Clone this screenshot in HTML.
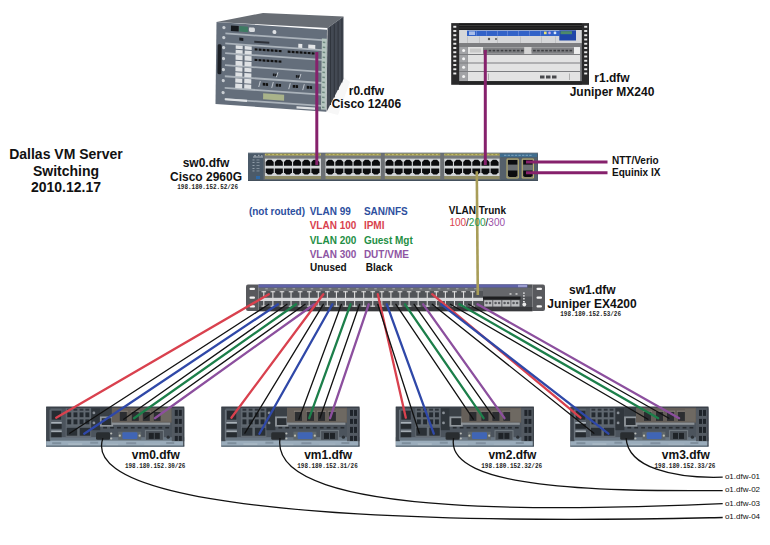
<!DOCTYPE html><html><head><meta charset="utf-8"><style>
html,body{margin:0;padding:0;background:#fff;width:770px;height:545px;overflow:hidden}
svg{display:block}
text{font-family:"Liberation Sans",sans-serif;font-weight:bold}
.r{font-weight:normal}
.m{font-family:"Liberation Mono",monospace;font-weight:bold}
</style></head><body>
<svg width="770" height="545" viewBox="0 0 770 545">
<rect width="770" height="545" fill="#fff"/>

<g id="r0">
<polygon points="326.5,112 343.5,77 350,82 338,115" fill="#f7f7f7"/>
<polygon points="216.5,22 263,13 343.5,16.5 327.5,28" fill="#686d74"/>
<polygon points="327.5,28 343.5,16.5 343.5,79 326.5,112" fill="#434953"/>
<line x1="330.5" y1="27.0" x2="330.5" y2="105.0" stroke="#30353d" stroke-width="1"/>
<line x1="334.3" y1="24.3" x2="334.3" y2="97.5" stroke="#30353d" stroke-width="1"/>
<line x1="338.1" y1="21.6" x2="338.1" y2="90.0" stroke="#30353d" stroke-width="1"/>
<line x1="341.9" y1="18.9" x2="341.9" y2="82.5" stroke="#30353d" stroke-width="1"/>
<g transform="matrix(1,0.07,-0.0125,1,216.5,22)">
<rect x="0" y="0" width="110.5" height="82" fill="#646e7b"/>
<rect x="9" y="9.9" width="97" height="1.8" fill="#aab2ba"/>
<rect x="9" y="19.900000000000002" width="97" height="1.8" fill="#aab2ba"/>
<rect x="9" y="29.6" width="97" height="1.8" fill="#aab2ba"/>
<rect x="9" y="41.6" width="97" height="1.8" fill="#aab2ba"/>
<rect x="9" y="52.7" width="97" height="1.8" fill="#aab2ba"/>
<rect x="9" y="64.3" width="97" height="1.8" fill="#aab2ba"/>
<rect x="9" y="75.6" width="97" height="1.8" fill="#aab2ba"/>
<rect x="14.5" y="2.5" width="7.8" height="5.5" fill="#15181c"/>
<rect x="23" y="2.5" width="8.5" height="5.5" fill="#3d7a62"/>
<rect x="32.5" y="3" width="6" height="4.5" rx="1.5" fill="#d9dcdf"/>
<circle cx="58" cy="6" r="2" fill="#dfe2e5"/>
<rect x="23" y="14" width="4" height="3" fill="#1a1d22"/>
<rect x="38" y="16" width="15" height="2" fill="#2c3038"/>
<rect x="82" y="16" width="4" height="4" fill="#e3e5e7"/>
<rect x="92" y="16" width="7" height="4" fill="#e3e5e7"/>
<rect x="19.5" y="22.0" width="7" height="3.5" fill="#dfe2e5"/>
<rect x="19.5" y="26.5" width="7" height="3.5" fill="#dfe2e5"/>
<rect x="28.5" y="22.0" width="7" height="3.5" fill="#dfe2e5"/>
<rect x="28.5" y="26.5" width="7" height="3.5" fill="#dfe2e5"/>
<rect x="19.5" y="31.7" width="7" height="4.7" fill="#dfe2e5"/>
<rect x="19.5" y="37.4" width="7" height="4.7" fill="#dfe2e5"/>
<rect x="28.5" y="31.7" width="7" height="4.7" fill="#dfe2e5"/>
<rect x="28.5" y="37.4" width="7" height="4.7" fill="#dfe2e5"/>
<rect x="19.5" y="43.7" width="7" height="4.1" fill="#dfe2e5"/>
<rect x="19.5" y="48.9" width="7" height="4.1" fill="#dfe2e5"/>
<rect x="28.5" y="43.7" width="7" height="4.1" fill="#dfe2e5"/>
<rect x="28.5" y="48.9" width="7" height="4.1" fill="#dfe2e5"/>
<rect x="19.5" y="54.8" width="7" height="4.4" fill="#dfe2e5"/>
<rect x="19.5" y="60.2" width="7" height="4.4" fill="#dfe2e5"/>
<rect x="28.5" y="54.8" width="7" height="4.4" fill="#dfe2e5"/>
<rect x="28.5" y="60.2" width="7" height="4.4" fill="#dfe2e5"/>
<rect x="38.5" y="23.5" width="2.8" height="2.2" fill="#111"/>
<rect x="71.5" y="23.5" width="2.8" height="2.2" fill="#111"/>
<rect x="42.5" y="23.5" width="2.8" height="2.2" fill="#111"/>
<rect x="75.5" y="23.5" width="2.8" height="2.2" fill="#111"/>
<rect x="46.5" y="23.5" width="2.8" height="2.2" fill="#111"/>
<rect x="79.5" y="23.5" width="2.8" height="2.2" fill="#111"/>
<rect x="50.5" y="23.5" width="2.8" height="2.2" fill="#111"/>
<rect x="83.5" y="23.5" width="2.8" height="2.2" fill="#111"/>
<rect x="54.5" y="23.5" width="2.8" height="2.2" fill="#111"/>
<rect x="87.5" y="23.5" width="2.8" height="2.2" fill="#111"/>
<rect x="58.5" y="23.5" width="2.8" height="2.2" fill="#111"/>
<rect x="91.5" y="23.5" width="2.8" height="2.2" fill="#111"/>
<rect x="62.5" y="23.5" width="2.8" height="2.2" fill="#111"/>
<rect x="95.5" y="23.5" width="2.8" height="2.2" fill="#111"/>
<rect x="38.5" y="34" width="2.8" height="2.2" fill="#111"/>
<rect x="42.5" y="34" width="2.8" height="2.2" fill="#111"/>
<rect x="46.5" y="34" width="2.8" height="2.2" fill="#111"/>
<rect x="50.5" y="34" width="2.8" height="2.2" fill="#111"/>
<rect x="54.5" y="34" width="2.8" height="2.2" fill="#111"/>
<rect x="58.5" y="34" width="2.8" height="2.2" fill="#111"/>
<rect x="62.5" y="34" width="2.8" height="2.2" fill="#111"/>
<rect x="57" y="47.5" width="1.8" height="2.6" fill="#15171a"/><rect x="59.2" y="47.5" width="1.8" height="2.6" fill="#15171a"/>
<path d="M62,46 l-1.5,5" stroke="#c8ced4" stroke-width="0.9"/>
<rect x="80" y="47.5" width="1.8" height="2.6" fill="#15171a"/><rect x="82.2" y="47.5" width="1.8" height="2.6" fill="#15171a"/>
<path d="M85,46 l-1.5,5" stroke="#c8ced4" stroke-width="0.9"/>
<rect x="47" y="57.5" width="2.4" height="2.8" fill="#111"/><rect x="49.9" y="57.5" width="2.4" height="2.8" fill="#111"/>
<path d="M44.5,56 l-1.5,6" stroke="#c8ced4" stroke-width="0.9"/>
<rect x="60" y="57.5" width="2.4" height="2.8" fill="#111"/><rect x="62.9" y="57.5" width="2.4" height="2.8" fill="#111"/>
<path d="M57.5,56 l-1.5,6" stroke="#c8ced4" stroke-width="0.9"/>
<rect x="77" y="57.5" width="2.4" height="2.8" fill="#111"/><rect x="79.9" y="57.5" width="2.4" height="2.8" fill="#111"/>
<path d="M74.5,56 l-1.5,6" stroke="#c8ced4" stroke-width="0.9"/>
<rect x="91" y="57.5" width="2.4" height="2.8" fill="#111"/><rect x="93.9" y="57.5" width="2.4" height="2.8" fill="#111"/>
<path d="M88.5,56 l-1.5,6" stroke="#c8ced4" stroke-width="0.9"/>
<rect x="47.5" y="68" width="21" height="6" fill="#a9b38a"/>
<rect x="9.5" y="75.5" width="22" height="2.2" fill="#dfe2e5"/>
<rect x="81" y="78.6" width="18.5" height="2.2" fill="#dfe2e5"/>
<rect x="1.5" y="22" width="4" height="30" rx="1.5" fill="#1c2026"/>
<circle cx="7.5" cy="5" r="1.6" fill="#c9ced3"/>
<circle cx="7.5" cy="15" r="1.6" fill="#c9ced3"/>
<circle cx="7.5" cy="25" r="1.6" fill="#c9ced3"/>
<circle cx="7.5" cy="36" r="1.6" fill="#c9ced3"/>
<circle cx="7.5" cy="47" r="1.6" fill="#c9ced3"/>
<circle cx="7.5" cy="58" r="1.6" fill="#c9ced3"/>
<circle cx="7.5" cy="70" r="1.6" fill="#c9ced3"/>
<rect x="105.5" y="9" width="5" height="71" fill="#b6c6c0"/>
<rect x="106.5" y="12" width="2.5" height="1.5" fill="#6f8a80"/>
<rect x="106.5" y="17" width="2.5" height="1.5" fill="#6f8a80"/>
<rect x="106.5" y="22" width="2.5" height="1.5" fill="#6f8a80"/>
<rect x="106.5" y="27" width="2.5" height="1.5" fill="#6f8a80"/>
<rect x="106.5" y="32" width="2.5" height="1.5" fill="#6f8a80"/>
<rect x="106.5" y="37" width="2.5" height="1.5" fill="#6f8a80"/>
<rect x="106.5" y="42" width="2.5" height="1.5" fill="#6f8a80"/>
<rect x="106.5" y="47" width="2.5" height="1.5" fill="#6f8a80"/>
<rect x="106.5" y="52" width="2.5" height="1.5" fill="#6f8a80"/>
<rect x="106.5" y="57" width="2.5" height="1.5" fill="#6f8a80"/>
<rect x="106.5" y="62" width="2.5" height="1.5" fill="#6f8a80"/>
<rect x="106.5" y="67" width="2.5" height="1.5" fill="#6f8a80"/>
<rect x="106.5" y="72" width="2.5" height="1.5" fill="#6f8a80"/>
<rect x="106.5" y="77" width="2.5" height="1.5" fill="#6f8a80"/>
</g></g>
<g id="r1">
<rect x="451.2" y="23.1" width="137.8" height="61.7" fill="#2a2a2b"/>
<rect x="453.3" y="25.80" width="3" height="1.9" fill="#ececec"/>
<rect x="584.2" y="25.80" width="3" height="1.9" fill="#ececec"/>
<rect x="453.3" y="30.05" width="3" height="1.9" fill="#ececec"/>
<rect x="584.2" y="30.05" width="3" height="1.9" fill="#ececec"/>
<rect x="453.3" y="34.30" width="3" height="1.9" fill="#ececec"/>
<rect x="584.2" y="34.30" width="3" height="1.9" fill="#ececec"/>
<rect x="453.3" y="38.55" width="3" height="1.9" fill="#ececec"/>
<rect x="584.2" y="38.55" width="3" height="1.9" fill="#ececec"/>
<rect x="453.3" y="42.80" width="3" height="1.9" fill="#ececec"/>
<rect x="584.2" y="42.80" width="3" height="1.9" fill="#ececec"/>
<rect x="453.3" y="47.05" width="3" height="1.9" fill="#ececec"/>
<rect x="584.2" y="47.05" width="3" height="1.9" fill="#ececec"/>
<rect x="453.3" y="51.30" width="3" height="1.9" fill="#ececec"/>
<rect x="584.2" y="51.30" width="3" height="1.9" fill="#ececec"/>
<rect x="453.3" y="55.55" width="3" height="1.9" fill="#ececec"/>
<rect x="584.2" y="55.55" width="3" height="1.9" fill="#ececec"/>
<rect x="453.3" y="59.80" width="3" height="1.9" fill="#ececec"/>
<rect x="584.2" y="59.80" width="3" height="1.9" fill="#ececec"/>
<rect x="453.3" y="64.05" width="3" height="1.9" fill="#ececec"/>
<rect x="584.2" y="64.05" width="3" height="1.9" fill="#ececec"/>
<rect x="453.3" y="68.30" width="3" height="1.9" fill="#ececec"/>
<rect x="584.2" y="68.30" width="3" height="1.9" fill="#ececec"/>
<rect x="453.3" y="72.55" width="3" height="1.9" fill="#ececec"/>
<rect x="584.2" y="72.55" width="3" height="1.9" fill="#ececec"/>
<rect x="459.1" y="23.5" width="122.7" height="6.5" fill="#1b1b1c"/>
<rect x="459.1" y="25" width="122.7" height="1" fill="#3a3a3a"/>
<rect x="459.1" y="27.5" width="122.7" height="1" fill="#333"/>
<rect x="459.1" y="30" width="122.7" height="13.5" fill="#d6d7d9"/>
<rect x="467" y="30.6" width="92.5" height="5.4" fill="#3262c8"/>
<rect x="476" y="31" width="0.8" height="4.6" fill="#6a8ad8"/>
<rect x="486" y="31" width="0.8" height="4.6" fill="#6a8ad8"/>
<rect x="497" y="31" width="0.8" height="4.6" fill="#6a8ad8"/>
<rect x="507" y="31" width="0.8" height="4.6" fill="#6a8ad8"/>
<rect x="518" y="31" width="0.8" height="4.6" fill="#6a8ad8"/>
<rect x="529" y="31" width="0.8" height="4.6" fill="#6a8ad8"/>
<rect x="540" y="31" width="0.8" height="4.6" fill="#6a8ad8"/>
<rect x="469" y="31.4" width="6" height="3.6" fill="#a9bde8"/>
<rect x="559.3" y="30.3" width="16.7" height="10.2" fill="#1f46a8"/>
<rect x="560.5" y="31.2" width="11.5" height="3" fill="#4d8a6a"/>
<rect x="544" y="31.6" width="2.6" height="2.6" fill="#e8e070"/><circle cx="549.5" cy="32.9" r="1.3" fill="#c8a8e8"/><circle cx="555" cy="32.9" r="1.4" fill="#d8e8f8"/>
<rect x="467" y="36.5" width="0.7" height="6.5" fill="#b8b9bb"/>
<rect x="479" y="36.5" width="0.7" height="6.5" fill="#b8b9bb"/>
<rect x="497" y="36.5" width="0.7" height="6.5" fill="#b8b9bb"/>
<rect x="520" y="36.5" width="0.7" height="6.5" fill="#b8b9bb"/>
<rect x="541" y="36.5" width="0.7" height="6.5" fill="#b8b9bb"/>
<rect x="555" y="36.5" width="0.7" height="6.5" fill="#b8b9bb"/>
<circle cx="489" cy="39" r="1.2" fill="#555"/><rect x="495" y="38" width="2" height="2" fill="#777"/>
<rect x="459.1" y="43.5" width="122.7" height="37.8" fill="#7c7d80"/>
<rect x="468" y="47" width="112" height="7" fill="#e2e2e2"/>
<rect x="459.5" y="47" width="8.3" height="7" fill="#a2a3a6"/>
<circle cx="463.6" cy="50.5" r="1.5" fill="#f4f4f4"/>
<rect x="468" y="55" width="112" height="7.5" fill="#e2e2e2"/>
<rect x="459.5" y="55" width="8.3" height="7.5" fill="#a2a3a6"/>
<circle cx="463.6" cy="58.8" r="1.5" fill="#f4f4f4"/>
<rect x="468" y="63.5" width="112" height="7.5" fill="#e2e2e2"/>
<rect x="459.5" y="63.5" width="8.3" height="7.5" fill="#a2a3a6"/>
<circle cx="463.6" cy="67.2" r="1.5" fill="#f4f4f4"/>
<rect x="468" y="72" width="112" height="9" fill="#e2e2e2"/>
<rect x="459.5" y="72" width="8.3" height="9" fill="#a2a3a6"/>
<circle cx="463.6" cy="76.5" r="1.5" fill="#f4f4f4"/>
<rect x="483" y="47.3" width="91" height="6.5" fill="#7e7f82"/>
<rect x="484.5" y="49.8" width="2.6" height="1.6" fill="#3e3f42"/>
<rect x="488.6" y="49.8" width="2.6" height="1.6" fill="#3e3f42"/>
<rect x="492.6" y="49.8" width="2.6" height="1.6" fill="#3e3f42"/>
<rect x="496.6" y="49.8" width="2.6" height="1.6" fill="#3e3f42"/>
<rect x="500.7" y="49.8" width="2.6" height="1.6" fill="#3e3f42"/>
<rect x="504.8" y="49.8" width="2.6" height="1.6" fill="#3e3f42"/>
<rect x="508.8" y="49.8" width="2.6" height="1.6" fill="#3e3f42"/>
<rect x="512.9" y="49.8" width="2.6" height="1.6" fill="#3e3f42"/>
<rect x="516.9" y="49.8" width="2.6" height="1.6" fill="#3e3f42"/>
<rect x="521.0" y="49.8" width="2.6" height="1.6" fill="#3e3f42"/>
<rect x="525.0" y="49.8" width="2.6" height="1.6" fill="#3e3f42"/>
<rect x="529.0" y="49.8" width="2.6" height="1.6" fill="#3e3f42"/>
<rect x="533.1" y="49.8" width="2.6" height="1.6" fill="#3e3f42"/>
<rect x="537.1" y="49.8" width="2.6" height="1.6" fill="#3e3f42"/>
<rect x="541.2" y="49.8" width="2.6" height="1.6" fill="#3e3f42"/>
<rect x="545.2" y="49.8" width="2.6" height="1.6" fill="#3e3f42"/>
<rect x="549.3" y="49.8" width="2.6" height="1.6" fill="#3e3f42"/>
<rect x="553.4" y="49.8" width="2.6" height="1.6" fill="#3e3f42"/>
<rect x="557.4" y="49.8" width="2.6" height="1.6" fill="#3e3f42"/>
<rect x="561.5" y="49.8" width="2.6" height="1.6" fill="#3e3f42"/>
<rect x="565.5" y="49.8" width="2.6" height="1.6" fill="#3e3f42"/>
<rect x="569.5" y="49.8" width="2.6" height="1.6" fill="#3e3f42"/>
<rect x="524.2" y="47" width="7.3" height="7" fill="#d4d4d4"/>
<rect x="574" y="47.3" width="6" height="6.5" fill="#ededed"/>
<rect x="470" y="48.5" width="11" height="4" fill="#c8c8c8"/>
<rect x="540" y="75.5" width="4.5" height="3" fill="#48494c"/>
<rect x="546" y="75.5" width="4.5" height="3" fill="#48494c"/>
<rect x="552" y="75.5" width="4.5" height="3" fill="#48494c"/>
<rect x="488" y="73.5" width="0.7" height="6.5" fill="#999"/><rect x="569" y="73.5" width="0.7" height="6.5" fill="#999"/>
<rect x="459.1" y="81.3" width="122.7" height="3.2" fill="#252526"/>
</g>
<g id="sw0">
<rect x="248" y="152.8" width="290" height="28" fill="#4b5a69"/>
<rect x="248" y="152.8" width="290" height="0.8" fill="#6a7885"/>
<rect x="248" y="180" width="290" height="0.8" fill="#3a4652"/>
<path d="M253,157 h10 M254,155.8 h2 M258,155.3 h1.5 M261,155.8 h1.5" stroke="#c5ccd2" stroke-width="0.8"/>
<rect x="252.5" y="159.5" width="2" height="0.9" fill="#9aa6b0"/><rect x="256.5" y="159.5" width="3" height="0.9" fill="#8794a0"/>
<rect x="252.5" y="162" width="2" height="0.9" fill="#9aa6b0"/><rect x="256.5" y="162" width="3" height="0.9" fill="#8794a0"/>
<rect x="252.5" y="165" width="2" height="0.9" fill="#9aa6b0"/><rect x="256.5" y="165" width="3" height="0.9" fill="#8794a0"/>
<rect x="252.5" y="168" width="2" height="0.9" fill="#9aa6b0"/><rect x="256.5" y="168" width="3" height="0.9" fill="#8794a0"/>
<rect x="252.5" y="170.5" width="2" height="0.9" fill="#9aa6b0"/><rect x="256.5" y="170.5" width="3" height="0.9" fill="#8794a0"/>
<rect x="256" y="176" width="4" height="3" fill="#2f6aa8"/>
<rect x="263.5" y="153.4" width="237" height="26.4" fill="#6c7074"/>
<rect x="265" y="153.6" width="56" height="2.1" fill="#c4bd66"/>
<rect x="266.0" y="154.3" width="2.2" height="0.8" fill="#8a8440"/>
<rect x="270.0" y="154.3" width="2.2" height="0.8" fill="#8a8440"/>
<rect x="274.0" y="154.3" width="2.2" height="0.8" fill="#8a8440"/>
<rect x="278.0" y="154.3" width="2.2" height="0.8" fill="#8a8440"/>
<rect x="282.0" y="154.3" width="2.2" height="0.8" fill="#8a8440"/>
<rect x="286.0" y="154.3" width="2.2" height="0.8" fill="#8a8440"/>
<rect x="290.0" y="154.3" width="2.2" height="0.8" fill="#8a8440"/>
<rect x="294.0" y="154.3" width="2.2" height="0.8" fill="#8a8440"/>
<rect x="298.0" y="154.3" width="2.2" height="0.8" fill="#8a8440"/>
<rect x="302.0" y="154.3" width="2.2" height="0.8" fill="#8a8440"/>
<rect x="306.0" y="154.3" width="2.2" height="0.8" fill="#8a8440"/>
<rect x="310.0" y="154.3" width="2.2" height="0.8" fill="#8a8440"/>
<rect x="314.0" y="154.3" width="2.2" height="0.8" fill="#8a8440"/>
<rect x="318.0" y="154.3" width="2.2" height="0.8" fill="#8a8440"/>
<rect x="265" y="155.7" width="56" height="2.9" fill="#75797c"/>
<rect x="265" y="158.6" width="56" height="17.4" fill="#d3d6d8"/>
<rect x="265" y="176" width="56" height="3" fill="#8e8b66"/>
<path d="M265.70,162 l2.2,-2.2 h3.6 l2.2,2.2 v3.7 h-8z" fill="#0b0c0e"/>
<path d="M265.70,168.4 h8 v3.9 l-2.2,2.2 h-3.6 l-2.2,-2.2z" fill="#0b0c0e"/>
<path d="M274.84,162 l2.2,-2.2 h3.6 l2.2,2.2 v3.7 h-8z" fill="#0b0c0e"/>
<path d="M274.84,168.4 h8 v3.9 l-2.2,2.2 h-3.6 l-2.2,-2.2z" fill="#0b0c0e"/>
<path d="M283.98,162 l2.2,-2.2 h3.6 l2.2,2.2 v3.7 h-8z" fill="#0b0c0e"/>
<path d="M283.98,168.4 h8 v3.9 l-2.2,2.2 h-3.6 l-2.2,-2.2z" fill="#0b0c0e"/>
<path d="M293.12,162 l2.2,-2.2 h3.6 l2.2,2.2 v3.7 h-8z" fill="#0b0c0e"/>
<path d="M293.12,168.4 h8 v3.9 l-2.2,2.2 h-3.6 l-2.2,-2.2z" fill="#0b0c0e"/>
<path d="M302.26,162 l2.2,-2.2 h3.6 l2.2,2.2 v3.7 h-8z" fill="#0b0c0e"/>
<path d="M302.26,168.4 h8 v3.9 l-2.2,2.2 h-3.6 l-2.2,-2.2z" fill="#0b0c0e"/>
<path d="M311.40,162 l2.2,-2.2 h3.6 l2.2,2.2 v3.7 h-8z" fill="#0b0c0e"/>
<path d="M311.40,168.4 h8 v3.9 l-2.2,2.2 h-3.6 l-2.2,-2.2z" fill="#0b0c0e"/>
<rect x="325.5" y="153.6" width="55.30000000000001" height="2.1" fill="#c4bd66"/>
<rect x="326.5" y="154.3" width="2.2" height="0.8" fill="#8a8440"/>
<rect x="330.5" y="154.3" width="2.2" height="0.8" fill="#8a8440"/>
<rect x="334.5" y="154.3" width="2.2" height="0.8" fill="#8a8440"/>
<rect x="338.5" y="154.3" width="2.2" height="0.8" fill="#8a8440"/>
<rect x="342.5" y="154.3" width="2.2" height="0.8" fill="#8a8440"/>
<rect x="346.5" y="154.3" width="2.2" height="0.8" fill="#8a8440"/>
<rect x="350.5" y="154.3" width="2.2" height="0.8" fill="#8a8440"/>
<rect x="354.5" y="154.3" width="2.2" height="0.8" fill="#8a8440"/>
<rect x="358.5" y="154.3" width="2.2" height="0.8" fill="#8a8440"/>
<rect x="362.5" y="154.3" width="2.2" height="0.8" fill="#8a8440"/>
<rect x="366.5" y="154.3" width="2.2" height="0.8" fill="#8a8440"/>
<rect x="370.5" y="154.3" width="2.2" height="0.8" fill="#8a8440"/>
<rect x="374.5" y="154.3" width="2.2" height="0.8" fill="#8a8440"/>
<rect x="378.5" y="154.3" width="2.2" height="0.8" fill="#8a8440"/>
<rect x="325.5" y="155.7" width="55.30000000000001" height="2.9" fill="#75797c"/>
<rect x="325.5" y="158.6" width="55.30000000000001" height="17.4" fill="#d3d6d8"/>
<rect x="325.5" y="176" width="55.30000000000001" height="3" fill="#8e8b66"/>
<path d="M326.20,162 l2.2,-2.2 h3.6 l2.2,2.2 v3.7 h-8z" fill="#0b0c0e"/>
<path d="M326.20,168.4 h8 v3.9 l-2.2,2.2 h-3.6 l-2.2,-2.2z" fill="#0b0c0e"/>
<path d="M335.34,162 l2.2,-2.2 h3.6 l2.2,2.2 v3.7 h-8z" fill="#0b0c0e"/>
<path d="M335.34,168.4 h8 v3.9 l-2.2,2.2 h-3.6 l-2.2,-2.2z" fill="#0b0c0e"/>
<path d="M344.48,162 l2.2,-2.2 h3.6 l2.2,2.2 v3.7 h-8z" fill="#0b0c0e"/>
<path d="M344.48,168.4 h8 v3.9 l-2.2,2.2 h-3.6 l-2.2,-2.2z" fill="#0b0c0e"/>
<path d="M353.62,162 l2.2,-2.2 h3.6 l2.2,2.2 v3.7 h-8z" fill="#0b0c0e"/>
<path d="M353.62,168.4 h8 v3.9 l-2.2,2.2 h-3.6 l-2.2,-2.2z" fill="#0b0c0e"/>
<path d="M362.76,162 l2.2,-2.2 h3.6 l2.2,2.2 v3.7 h-8z" fill="#0b0c0e"/>
<path d="M362.76,168.4 h8 v3.9 l-2.2,2.2 h-3.6 l-2.2,-2.2z" fill="#0b0c0e"/>
<path d="M371.90,162 l2.2,-2.2 h3.6 l2.2,2.2 v3.7 h-8z" fill="#0b0c0e"/>
<path d="M371.90,168.4 h8 v3.9 l-2.2,2.2 h-3.6 l-2.2,-2.2z" fill="#0b0c0e"/>
<rect x="384.8" y="153.6" width="55.39999999999998" height="2.1" fill="#c4bd66"/>
<rect x="385.8" y="154.3" width="2.2" height="0.8" fill="#8a8440"/>
<rect x="389.8" y="154.3" width="2.2" height="0.8" fill="#8a8440"/>
<rect x="393.8" y="154.3" width="2.2" height="0.8" fill="#8a8440"/>
<rect x="397.8" y="154.3" width="2.2" height="0.8" fill="#8a8440"/>
<rect x="401.8" y="154.3" width="2.2" height="0.8" fill="#8a8440"/>
<rect x="405.8" y="154.3" width="2.2" height="0.8" fill="#8a8440"/>
<rect x="409.8" y="154.3" width="2.2" height="0.8" fill="#8a8440"/>
<rect x="413.8" y="154.3" width="2.2" height="0.8" fill="#8a8440"/>
<rect x="417.8" y="154.3" width="2.2" height="0.8" fill="#8a8440"/>
<rect x="421.8" y="154.3" width="2.2" height="0.8" fill="#8a8440"/>
<rect x="425.8" y="154.3" width="2.2" height="0.8" fill="#8a8440"/>
<rect x="429.8" y="154.3" width="2.2" height="0.8" fill="#8a8440"/>
<rect x="433.8" y="154.3" width="2.2" height="0.8" fill="#8a8440"/>
<rect x="437.8" y="154.3" width="2.2" height="0.8" fill="#8a8440"/>
<rect x="384.8" y="155.7" width="55.39999999999998" height="2.9" fill="#75797c"/>
<rect x="384.8" y="158.6" width="55.39999999999998" height="17.4" fill="#d3d6d8"/>
<rect x="384.8" y="176" width="55.39999999999998" height="3" fill="#8e8b66"/>
<path d="M385.50,162 l2.2,-2.2 h3.6 l2.2,2.2 v3.7 h-8z" fill="#0b0c0e"/>
<path d="M385.50,168.4 h8 v3.9 l-2.2,2.2 h-3.6 l-2.2,-2.2z" fill="#0b0c0e"/>
<path d="M394.64,162 l2.2,-2.2 h3.6 l2.2,2.2 v3.7 h-8z" fill="#0b0c0e"/>
<path d="M394.64,168.4 h8 v3.9 l-2.2,2.2 h-3.6 l-2.2,-2.2z" fill="#0b0c0e"/>
<path d="M403.78,162 l2.2,-2.2 h3.6 l2.2,2.2 v3.7 h-8z" fill="#0b0c0e"/>
<path d="M403.78,168.4 h8 v3.9 l-2.2,2.2 h-3.6 l-2.2,-2.2z" fill="#0b0c0e"/>
<path d="M412.92,162 l2.2,-2.2 h3.6 l2.2,2.2 v3.7 h-8z" fill="#0b0c0e"/>
<path d="M412.92,168.4 h8 v3.9 l-2.2,2.2 h-3.6 l-2.2,-2.2z" fill="#0b0c0e"/>
<path d="M422.06,162 l2.2,-2.2 h3.6 l2.2,2.2 v3.7 h-8z" fill="#0b0c0e"/>
<path d="M422.06,168.4 h8 v3.9 l-2.2,2.2 h-3.6 l-2.2,-2.2z" fill="#0b0c0e"/>
<path d="M431.20,162 l2.2,-2.2 h3.6 l2.2,2.2 v3.7 h-8z" fill="#0b0c0e"/>
<path d="M431.20,168.4 h8 v3.9 l-2.2,2.2 h-3.6 l-2.2,-2.2z" fill="#0b0c0e"/>
<rect x="444.2" y="153.6" width="55.30000000000001" height="2.1" fill="#c4bd66"/>
<rect x="445.2" y="154.3" width="2.2" height="0.8" fill="#8a8440"/>
<rect x="449.2" y="154.3" width="2.2" height="0.8" fill="#8a8440"/>
<rect x="453.2" y="154.3" width="2.2" height="0.8" fill="#8a8440"/>
<rect x="457.2" y="154.3" width="2.2" height="0.8" fill="#8a8440"/>
<rect x="461.2" y="154.3" width="2.2" height="0.8" fill="#8a8440"/>
<rect x="465.2" y="154.3" width="2.2" height="0.8" fill="#8a8440"/>
<rect x="469.2" y="154.3" width="2.2" height="0.8" fill="#8a8440"/>
<rect x="473.2" y="154.3" width="2.2" height="0.8" fill="#8a8440"/>
<rect x="477.2" y="154.3" width="2.2" height="0.8" fill="#8a8440"/>
<rect x="481.2" y="154.3" width="2.2" height="0.8" fill="#8a8440"/>
<rect x="485.2" y="154.3" width="2.2" height="0.8" fill="#8a8440"/>
<rect x="489.2" y="154.3" width="2.2" height="0.8" fill="#8a8440"/>
<rect x="493.2" y="154.3" width="2.2" height="0.8" fill="#8a8440"/>
<rect x="497.2" y="154.3" width="2.2" height="0.8" fill="#8a8440"/>
<rect x="444.2" y="155.7" width="55.30000000000001" height="2.9" fill="#75797c"/>
<rect x="444.2" y="158.6" width="55.30000000000001" height="17.4" fill="#d3d6d8"/>
<rect x="444.2" y="176" width="55.30000000000001" height="3" fill="#8e8b66"/>
<path d="M444.90,162 l2.2,-2.2 h3.6 l2.2,2.2 v3.7 h-8z" fill="#0b0c0e"/>
<path d="M444.90,168.4 h8 v3.9 l-2.2,2.2 h-3.6 l-2.2,-2.2z" fill="#0b0c0e"/>
<path d="M454.04,162 l2.2,-2.2 h3.6 l2.2,2.2 v3.7 h-8z" fill="#0b0c0e"/>
<path d="M454.04,168.4 h8 v3.9 l-2.2,2.2 h-3.6 l-2.2,-2.2z" fill="#0b0c0e"/>
<path d="M463.18,162 l2.2,-2.2 h3.6 l2.2,2.2 v3.7 h-8z" fill="#0b0c0e"/>
<path d="M463.18,168.4 h8 v3.9 l-2.2,2.2 h-3.6 l-2.2,-2.2z" fill="#0b0c0e"/>
<path d="M472.32,162 l2.2,-2.2 h3.6 l2.2,2.2 v3.7 h-8z" fill="#0b0c0e"/>
<path d="M472.32,168.4 h8 v3.9 l-2.2,2.2 h-3.6 l-2.2,-2.2z" fill="#0b0c0e"/>
<path d="M481.46,162 l2.2,-2.2 h3.6 l2.2,2.2 v3.7 h-8z" fill="#0b0c0e"/>
<path d="M481.46,168.4 h8 v3.9 l-2.2,2.2 h-3.6 l-2.2,-2.2z" fill="#0b0c0e"/>
<path d="M490.60,162 l2.2,-2.2 h3.6 l2.2,2.2 v3.7 h-8z" fill="#0b0c0e"/>
<path d="M490.60,168.4 h8 v3.9 l-2.2,2.2 h-3.6 l-2.2,-2.2z" fill="#0b0c0e"/>
<rect x="500" y="153.6" width="37" height="3.6" fill="#3f6d8e"/>
<rect x="504.0" y="154.8" width="2.4" height="1" fill="#7fa4c0"/>
<rect x="507.6" y="154.8" width="2.4" height="1" fill="#7fa4c0"/>
<rect x="511.2" y="154.8" width="2.4" height="1" fill="#7fa4c0"/>
<rect x="514.8" y="154.8" width="2.4" height="1" fill="#7fa4c0"/>
<rect x="518.4" y="154.8" width="2.4" height="1" fill="#7fa4c0"/>
<rect x="522.0" y="154.8" width="2.4" height="1" fill="#7fa4c0"/>
<rect x="525.6" y="154.8" width="2.4" height="1" fill="#7fa4c0"/>
<rect x="529.2" y="154.8" width="2.4" height="1" fill="#7fa4c0"/>
<rect x="500" y="157.5" width="37" height="22" fill="#55606a"/>
<rect x="506.5" y="158.5" width="12.3" height="20" rx="1.2" fill="#bfb36a"/>
<rect x="507.5" y="159.5" width="10.3" height="18" fill="#6b6f72"/>
<rect x="508.0" y="160" width="9.3" height="4.6" fill="#0b0c0e"/>
<path d="M508.0,170.5 h9.3 v5 l-1.5,1.5 h-6.3 l-1.5,-1.5z" fill="#0b0c0e"/>
<rect x="521.7" y="158.5" width="12.3" height="20" rx="1.2" fill="#bfb36a"/>
<rect x="522.7" y="159.5" width="10.3" height="18" fill="#6b6f72"/>
<rect x="523.2" y="160" width="9.3" height="4.6" fill="#0b0c0e"/>
<path d="M523.2,170.5 h9.3 v5 l-1.5,1.5 h-6.3 l-1.5,-1.5z" fill="#0b0c0e"/>
</g>
<g id="sw1">
<path d="M246,286.5 q0,-2 2,-2 h10.5 v26.5 h-10.5 q-2,0 -2,-2z" fill="#58595d"/>
<path d="M545,286.5 q0,-2 -2,-2 h-10.5 v26.5 h10.5 q2,0 2,-2z" fill="#58595d"/>
<rect x="249.5" y="287.7" width="5.5" height="2.4" rx="1.1" fill="#f4f4f4"/>
<rect x="536.5" y="287.7" width="5.5" height="2.4" rx="1.1" fill="#f4f4f4"/>
<rect x="249.5" y="296.4" width="5.5" height="2.4" rx="1.1" fill="#f4f4f4"/>
<rect x="536.5" y="296.4" width="5.5" height="2.4" rx="1.1" fill="#f4f4f4"/>
<rect x="249.5" y="305.2" width="5.5" height="2.4" rx="1.1" fill="#f4f4f4"/>
<rect x="536.5" y="305.2" width="5.5" height="2.4" rx="1.1" fill="#f4f4f4"/>
<rect x="258.5" y="284.4" width="274" height="26.8" fill="#505256"/>
<rect x="258.5" y="284.4" width="269" height="3.3" fill="#5f62a8"/>
<rect x="518" y="284.8" width="9" height="2.4" fill="#9a9cd0"/>
<rect x="259" y="287.7" width="224" height="3.4" fill="#6b6e72"/>
<rect x="265.30" y="288.3" width="2.5" height="1" fill="#a8aaac"/>
<rect x="274.38" y="288.3" width="2.5" height="1" fill="#a8aaac"/>
<rect x="283.46" y="288.3" width="2.5" height="1" fill="#a8aaac"/>
<rect x="292.54" y="288.3" width="2.5" height="1" fill="#a8aaac"/>
<rect x="301.62" y="288.3" width="2.5" height="1" fill="#a8aaac"/>
<rect x="310.70" y="288.3" width="2.5" height="1" fill="#a8aaac"/>
<rect x="319.78" y="288.3" width="2.5" height="1" fill="#a8aaac"/>
<rect x="328.86" y="288.3" width="2.5" height="1" fill="#a8aaac"/>
<rect x="337.94" y="288.3" width="2.5" height="1" fill="#a8aaac"/>
<rect x="347.02" y="288.3" width="2.5" height="1" fill="#a8aaac"/>
<rect x="356.10" y="288.3" width="2.5" height="1" fill="#a8aaac"/>
<rect x="365.18" y="288.3" width="2.5" height="1" fill="#a8aaac"/>
<rect x="374.26" y="288.3" width="2.5" height="1" fill="#a8aaac"/>
<rect x="383.34" y="288.3" width="2.5" height="1" fill="#a8aaac"/>
<rect x="392.42" y="288.3" width="2.5" height="1" fill="#a8aaac"/>
<rect x="401.50" y="288.3" width="2.5" height="1" fill="#a8aaac"/>
<rect x="410.58" y="288.3" width="2.5" height="1" fill="#a8aaac"/>
<rect x="419.66" y="288.3" width="2.5" height="1" fill="#a8aaac"/>
<rect x="428.74" y="288.3" width="2.5" height="1" fill="#a8aaac"/>
<rect x="437.82" y="288.3" width="2.5" height="1" fill="#a8aaac"/>
<rect x="446.90" y="288.3" width="2.5" height="1" fill="#a8aaac"/>
<rect x="455.98" y="288.3" width="2.5" height="1" fill="#a8aaac"/>
<rect x="465.06" y="288.3" width="2.5" height="1" fill="#a8aaac"/>
<rect x="474.14" y="288.3" width="2.5" height="1" fill="#a8aaac"/>
<rect x="259" y="291" width="224" height="16" fill="#515458"/>
<rect x="260" y="297.8" width="223" height="3.2" fill="#d6d8da"/>
<rect x="263.25" y="291.2" width="1.1" height="15.4" fill="#dcdcdc"/>
<rect x="261.50" y="291.2" width="4.6" height="1.1" fill="#dcdcdc"/>
<rect x="261.50" y="305.6" width="4.6" height="1.1" fill="#dcdcdc"/>
<rect x="272.33" y="291.2" width="1.1" height="15.4" fill="#dcdcdc"/>
<rect x="270.58" y="291.2" width="4.6" height="1.1" fill="#dcdcdc"/>
<rect x="270.58" y="305.6" width="4.6" height="1.1" fill="#dcdcdc"/>
<rect x="281.41" y="291.2" width="1.1" height="15.4" fill="#dcdcdc"/>
<rect x="279.66" y="291.2" width="4.6" height="1.1" fill="#dcdcdc"/>
<rect x="279.66" y="305.6" width="4.6" height="1.1" fill="#dcdcdc"/>
<rect x="290.49" y="291.2" width="1.1" height="15.4" fill="#dcdcdc"/>
<rect x="288.74" y="291.2" width="4.6" height="1.1" fill="#dcdcdc"/>
<rect x="288.74" y="305.6" width="4.6" height="1.1" fill="#dcdcdc"/>
<rect x="299.57" y="291.2" width="1.1" height="15.4" fill="#dcdcdc"/>
<rect x="297.82" y="291.2" width="4.6" height="1.1" fill="#dcdcdc"/>
<rect x="297.82" y="305.6" width="4.6" height="1.1" fill="#dcdcdc"/>
<rect x="308.65" y="291.2" width="1.1" height="15.4" fill="#dcdcdc"/>
<rect x="306.90" y="291.2" width="4.6" height="1.1" fill="#dcdcdc"/>
<rect x="306.90" y="305.6" width="4.6" height="1.1" fill="#dcdcdc"/>
<rect x="317.73" y="291.2" width="1.1" height="15.4" fill="#dcdcdc"/>
<rect x="315.98" y="291.2" width="4.6" height="1.1" fill="#dcdcdc"/>
<rect x="315.98" y="305.6" width="4.6" height="1.1" fill="#dcdcdc"/>
<rect x="326.81" y="291.2" width="1.1" height="15.4" fill="#dcdcdc"/>
<rect x="325.06" y="291.2" width="4.6" height="1.1" fill="#dcdcdc"/>
<rect x="325.06" y="305.6" width="4.6" height="1.1" fill="#dcdcdc"/>
<rect x="335.89" y="291.2" width="1.1" height="15.4" fill="#dcdcdc"/>
<rect x="334.14" y="291.2" width="4.6" height="1.1" fill="#dcdcdc"/>
<rect x="334.14" y="305.6" width="4.6" height="1.1" fill="#dcdcdc"/>
<rect x="344.97" y="291.2" width="1.1" height="15.4" fill="#dcdcdc"/>
<rect x="343.22" y="291.2" width="4.6" height="1.1" fill="#dcdcdc"/>
<rect x="343.22" y="305.6" width="4.6" height="1.1" fill="#dcdcdc"/>
<rect x="354.05" y="291.2" width="1.1" height="15.4" fill="#dcdcdc"/>
<rect x="352.30" y="291.2" width="4.6" height="1.1" fill="#dcdcdc"/>
<rect x="352.30" y="305.6" width="4.6" height="1.1" fill="#dcdcdc"/>
<rect x="363.13" y="291.2" width="1.1" height="15.4" fill="#dcdcdc"/>
<rect x="361.38" y="291.2" width="4.6" height="1.1" fill="#dcdcdc"/>
<rect x="361.38" y="305.6" width="4.6" height="1.1" fill="#dcdcdc"/>
<rect x="372.21" y="291.2" width="1.1" height="15.4" fill="#dcdcdc"/>
<rect x="370.46" y="291.2" width="4.6" height="1.1" fill="#dcdcdc"/>
<rect x="370.46" y="305.6" width="4.6" height="1.1" fill="#dcdcdc"/>
<rect x="381.29" y="291.2" width="1.1" height="15.4" fill="#dcdcdc"/>
<rect x="379.54" y="291.2" width="4.6" height="1.1" fill="#dcdcdc"/>
<rect x="379.54" y="305.6" width="4.6" height="1.1" fill="#dcdcdc"/>
<rect x="390.37" y="291.2" width="1.1" height="15.4" fill="#dcdcdc"/>
<rect x="388.62" y="291.2" width="4.6" height="1.1" fill="#dcdcdc"/>
<rect x="388.62" y="305.6" width="4.6" height="1.1" fill="#dcdcdc"/>
<rect x="399.45" y="291.2" width="1.1" height="15.4" fill="#dcdcdc"/>
<rect x="397.70" y="291.2" width="4.6" height="1.1" fill="#dcdcdc"/>
<rect x="397.70" y="305.6" width="4.6" height="1.1" fill="#dcdcdc"/>
<rect x="408.53" y="291.2" width="1.1" height="15.4" fill="#dcdcdc"/>
<rect x="406.78" y="291.2" width="4.6" height="1.1" fill="#dcdcdc"/>
<rect x="406.78" y="305.6" width="4.6" height="1.1" fill="#dcdcdc"/>
<rect x="417.61" y="291.2" width="1.1" height="15.4" fill="#dcdcdc"/>
<rect x="415.86" y="291.2" width="4.6" height="1.1" fill="#dcdcdc"/>
<rect x="415.86" y="305.6" width="4.6" height="1.1" fill="#dcdcdc"/>
<rect x="426.69" y="291.2" width="1.1" height="15.4" fill="#dcdcdc"/>
<rect x="424.94" y="291.2" width="4.6" height="1.1" fill="#dcdcdc"/>
<rect x="424.94" y="305.6" width="4.6" height="1.1" fill="#dcdcdc"/>
<rect x="435.77" y="291.2" width="1.1" height="15.4" fill="#dcdcdc"/>
<rect x="434.02" y="291.2" width="4.6" height="1.1" fill="#dcdcdc"/>
<rect x="434.02" y="305.6" width="4.6" height="1.1" fill="#dcdcdc"/>
<rect x="444.85" y="291.2" width="1.1" height="15.4" fill="#dcdcdc"/>
<rect x="443.10" y="291.2" width="4.6" height="1.1" fill="#dcdcdc"/>
<rect x="443.10" y="305.6" width="4.6" height="1.1" fill="#dcdcdc"/>
<rect x="453.93" y="291.2" width="1.1" height="15.4" fill="#dcdcdc"/>
<rect x="452.18" y="291.2" width="4.6" height="1.1" fill="#dcdcdc"/>
<rect x="452.18" y="305.6" width="4.6" height="1.1" fill="#dcdcdc"/>
<rect x="463.01" y="291.2" width="1.1" height="15.4" fill="#dcdcdc"/>
<rect x="461.26" y="291.2" width="4.6" height="1.1" fill="#dcdcdc"/>
<rect x="461.26" y="305.6" width="4.6" height="1.1" fill="#dcdcdc"/>
<rect x="472.09" y="291.2" width="1.1" height="15.4" fill="#dcdcdc"/>
<rect x="470.34" y="291.2" width="4.6" height="1.1" fill="#dcdcdc"/>
<rect x="470.34" y="305.6" width="4.6" height="1.1" fill="#dcdcdc"/>
<rect x="259" y="307" width="273.5" height="4.2" fill="#38393c"/>
<rect x="483" y="287.7" width="49" height="8.8" fill="#65676b"/>
<rect x="509.5" y="293.3" width="2" height="1.3" fill="#e0e0e0"/><rect x="515.5" y="293.3" width="2" height="1.3" fill="#e0e0e0"/>
<rect x="483" y="296.6" width="37.5" height="3.1" fill="#1d1e20"/>
<rect x="483" y="299.7" width="38" height="7.3" fill="#4a4c50"/>
<rect x="484.2" y="300.2" width="8.2" height="6.3" fill="#bcbec0"/>
<circle cx="486.5" cy="303" r="1.3" fill="#5a5c60"/><circle cx="490.0" cy="303" r="1.3" fill="#5a5c60"/>
<rect x="493.2" y="300.2" width="8.2" height="6.3" fill="#bcbec0"/>
<circle cx="495.6" cy="303" r="1.3" fill="#5a5c60"/><circle cx="499.1" cy="303" r="1.3" fill="#5a5c60"/>
<rect x="502.3" y="300.2" width="8.2" height="6.3" fill="#bcbec0"/>
<circle cx="504.6" cy="303" r="1.3" fill="#5a5c60"/><circle cx="508.1" cy="303" r="1.3" fill="#5a5c60"/>
<rect x="511.3" y="300.2" width="8.2" height="6.3" fill="#bcbec0"/>
<circle cx="513.6" cy="303" r="1.3" fill="#5a5c60"/><circle cx="517.1" cy="303" r="1.3" fill="#5a5c60"/>
<rect x="523" y="292.5" width="1.8" height="1.2" fill="#e8e8e8"/>
<rect x="523" y="295.3" width="1.8" height="1.2" fill="#e8e8e8"/>
<rect x="523" y="298.2" width="1.8" height="1.2" fill="#e8e8e8"/>
<rect x="523" y="301" width="1.8" height="1.2" fill="#e8e8e8"/>
<circle cx="524.3" cy="304.5" r="1.9" fill="#e8e8e8"/>
</g>
<g transform="translate(46.2,406.7)"><rect x="0" y="0" width="138" height="40" fill="#4c545d"/><rect x="0" y="0" width="138" height="1.5" fill="#3a4048"/><rect x="0" y="30.5" width="138" height="4" fill="#6a7783"/><rect x="0" y="34" width="138" height="6" fill="#9aacbb"/><rect x="6" y="35.5" width="9" height="2" fill="#7d8e9c"/><rect x="22" y="36.5" width="14" height="2" fill="#a9b8c4"/><rect x="44" y="35" width="8" height="2" fill="#7f909e"/><rect x="60" y="37" width="12" height="2" fill="#a6b6c2"/><rect x="80" y="35.5" width="10" height="2" fill="#8090a0"/><rect x="98" y="36.8" width="16" height="2" fill="#a2b2bf"/><rect x="120" y="35.3" width="8" height="2" fill="#7f8f9d"/><rect x="0" y="38.8" width="138" height="1.2" fill="#5d6a75"/><rect x="0" y="1.5" width="4" height="33" fill="#3f464e"/><rect x="3.5" y="3" width="0.8" height="30" fill="#7b848c"/><rect x="4.5" y="2" width="11" height="29" fill="#59616a"/><rect x="5.5" y="4" width="9.5" height="9" fill="#262b31"/><rect x="5" y="15.3" width="10.5" height="1.8" fill="#a9b1b8"/><rect x="5" y="17.1" width="10.5" height="5" fill="#262b30"/><rect x="5" y="23.8" width="10.5" height="1.8" fill="#a3abb2"/><rect x="5" y="25.6" width="10.5" height="4.8" fill="#262b30"/><rect x="19.5" y="1.5" width="25.5" height="18.5" fill="#5f676f"/><rect x="21.1" y="2" width="3.8" height="2" fill="#30363c"/><rect x="21.1" y="5.7" width="3.9" height="4.8" fill="#242a30"/><rect x="21.1" y="12.7" width="3.9" height="4.9" fill="#242a30"/><rect x="27.3" y="2" width="3.8" height="2" fill="#30363c"/><rect x="27.3" y="5.7" width="3.9" height="4.8" fill="#242a30"/><rect x="27.3" y="12.7" width="3.9" height="4.9" fill="#242a30"/><rect x="33.4" y="2" width="3.8" height="2" fill="#30363c"/><rect x="33.4" y="5.7" width="3.9" height="4.8" fill="#242a30"/><rect x="33.4" y="12.7" width="3.9" height="4.9" fill="#242a30"/><rect x="39.2" y="2" width="3.8" height="2" fill="#30363c"/><rect x="39.2" y="5.7" width="3.9" height="4.8" fill="#242a30"/><rect x="39.2" y="12.7" width="3.9" height="4.9" fill="#242a30"/><rect x="19.5" y="20" width="25.5" height="10.5" fill="#646c74"/><rect x="20.5" y="21" width="10.5" height="8" fill="#2a3036"/><rect x="33.5" y="21" width="10.5" height="8" fill="#2a3036"/><rect x="45" y="1.5" width="9" height="22" fill="#30363c"/><circle cx="47.7" cy="6.2" r="1.4" fill="#8a9097"/><circle cx="47.7" cy="16.2" r="1.4" fill="#8a9097"/><rect x="53.7" y="9.7" width="13.2" height="10.2" fill="#8f959a"/><rect x="55.5" y="11.5" width="9.6" height="6.8" fill="#2a2f34"/><rect x="54" y="1.5" width="12" height="8" fill="#3a4046"/><rect x="49.8" y="25.6" width="14.1" height="7.5" rx="1.5" fill="#292d30"/><circle cx="65" cy="26.8" r="1.1" fill="#b9bcb8"/><circle cx="65" cy="31.8" r="1.1" fill="#b9bcb8"/><rect x="65.6" y="1" width="60" height="15" fill="#655f59"/><rect x="72.6" y="4" width="9" height="1.2" fill="#807a73"/><rect x="73.6" y="5.2" width="7" height="9" fill="#2c2e31"/><rect x="84.6" y="4" width="9" height="1.2" fill="#807a73"/><rect x="85.6" y="5.2" width="7" height="9" fill="#2c2e31"/><rect x="95.6" y="4" width="9" height="1.2" fill="#807a73"/><rect x="96.6" y="5.2" width="7" height="9" fill="#2c2e31"/><rect x="106.6" y="4" width="9" height="1.2" fill="#807a73"/><rect x="107.6" y="5.2" width="7" height="9" fill="#2c2e31"/><rect x="114.5" y="2" width="10.5" height="13" fill="#6e6962"/><rect x="66" y="15.9" width="58" height="2.2" fill="#8c9297"/><rect x="57.0" y="20.2" width="3.8" height="1.6" fill="#262b30"/><rect x="63.9" y="20.2" width="3.8" height="1.6" fill="#262b30"/><rect x="70.8" y="20.2" width="3.8" height="1.6" fill="#262b30"/><rect x="77.7" y="20.2" width="3.8" height="1.6" fill="#262b30"/><rect x="84.6" y="20.2" width="3.8" height="1.6" fill="#262b30"/><rect x="91.5" y="20.2" width="3.8" height="1.6" fill="#262b30"/><rect x="98.4" y="20.2" width="3.8" height="1.6" fill="#262b30"/><rect x="105.3" y="20.2" width="3.8" height="1.6" fill="#262b30"/><rect x="112.2" y="20.2" width="3.8" height="1.6" fill="#262b30"/><rect x="119.1" y="20.2" width="3.8" height="1.6" fill="#262b30"/><rect x="72" y="25" width="23" height="8" fill="#5f676b"/><rect x="76.2" y="25.6" width="15" height="6.6" rx="1" fill="#4065b5"/><circle cx="73.6" cy="29" r="1.1" fill="#c0c0b0"/><circle cx="93.4" cy="29" r="1.1" fill="#c0c0b0"/><rect x="98.7" y="23.4" width="19" height="9.7" fill="#727a81"/><rect x="99.7" y="24.4" width="17" height="8.7" fill="#4b5259"/><rect x="102.6" y="26.2" width="5" height="6" fill="#1f2327"/><rect x="108.6" y="26.2" width="5" height="6" fill="#1f2327"/><circle cx="122" cy="30.5" r="1.6" fill="#2a2f34"/><rect x="125.6" y="1.5" width="12.4" height="33" fill="#535a62"/><rect x="128.6" y="3.2" width="3" height="6" fill="#1f242a"/><rect x="132.6" y="3.2" width="3" height="6" fill="#1f242a"/><rect x="128.6" y="12.2" width="3" height="5" fill="#1f242a"/><rect x="132.6" y="12.2" width="3" height="5" fill="#1f242a"/><rect x="128.6" y="20.2" width="3" height="6" fill="#1f242a"/><rect x="132.6" y="20.2" width="3" height="6" fill="#1f242a"/><rect x="128.6" y="29.2" width="3" height="5" fill="#1f242a"/><rect x="132.6" y="29.2" width="3" height="5" fill="#1f242a"/><rect x="137" y="1.5" width="1" height="38" fill="#3a4048"/></g>
<g transform="translate(221.4,406.7)"><rect x="0" y="0" width="138" height="40" fill="#4c545d"/><rect x="0" y="0" width="138" height="1.5" fill="#3a4048"/><rect x="0" y="30.5" width="138" height="4" fill="#6a7783"/><rect x="0" y="34" width="138" height="6" fill="#9aacbb"/><rect x="6" y="35.5" width="9" height="2" fill="#7d8e9c"/><rect x="22" y="36.5" width="14" height="2" fill="#a9b8c4"/><rect x="44" y="35" width="8" height="2" fill="#7f909e"/><rect x="60" y="37" width="12" height="2" fill="#a6b6c2"/><rect x="80" y="35.5" width="10" height="2" fill="#8090a0"/><rect x="98" y="36.8" width="16" height="2" fill="#a2b2bf"/><rect x="120" y="35.3" width="8" height="2" fill="#7f8f9d"/><rect x="0" y="38.8" width="138" height="1.2" fill="#5d6a75"/><rect x="0" y="1.5" width="4" height="33" fill="#3f464e"/><rect x="3.5" y="3" width="0.8" height="30" fill="#7b848c"/><rect x="4.5" y="2" width="11" height="29" fill="#59616a"/><rect x="5.5" y="4" width="9.5" height="9" fill="#262b31"/><rect x="5" y="15.3" width="10.5" height="1.8" fill="#a9b1b8"/><rect x="5" y="17.1" width="10.5" height="5" fill="#262b30"/><rect x="5" y="23.8" width="10.5" height="1.8" fill="#a3abb2"/><rect x="5" y="25.6" width="10.5" height="4.8" fill="#262b30"/><rect x="19.5" y="1.5" width="25.5" height="18.5" fill="#5f676f"/><rect x="21.1" y="2" width="3.8" height="2" fill="#30363c"/><rect x="21.1" y="5.7" width="3.9" height="4.8" fill="#242a30"/><rect x="21.1" y="12.7" width="3.9" height="4.9" fill="#242a30"/><rect x="27.3" y="2" width="3.8" height="2" fill="#30363c"/><rect x="27.3" y="5.7" width="3.9" height="4.8" fill="#242a30"/><rect x="27.3" y="12.7" width="3.9" height="4.9" fill="#242a30"/><rect x="33.4" y="2" width="3.8" height="2" fill="#30363c"/><rect x="33.4" y="5.7" width="3.9" height="4.8" fill="#242a30"/><rect x="33.4" y="12.7" width="3.9" height="4.9" fill="#242a30"/><rect x="39.2" y="2" width="3.8" height="2" fill="#30363c"/><rect x="39.2" y="5.7" width="3.9" height="4.8" fill="#242a30"/><rect x="39.2" y="12.7" width="3.9" height="4.9" fill="#242a30"/><rect x="19.5" y="20" width="25.5" height="10.5" fill="#646c74"/><rect x="20.5" y="21" width="10.5" height="8" fill="#2a3036"/><rect x="33.5" y="21" width="10.5" height="8" fill="#2a3036"/><rect x="45" y="1.5" width="9" height="22" fill="#30363c"/><circle cx="47.7" cy="6.2" r="1.4" fill="#8a9097"/><circle cx="47.7" cy="16.2" r="1.4" fill="#8a9097"/><rect x="53.7" y="9.7" width="13.2" height="10.2" fill="#8f959a"/><rect x="55.5" y="11.5" width="9.6" height="6.8" fill="#2a2f34"/><rect x="54" y="1.5" width="12" height="8" fill="#3a4046"/><rect x="49.8" y="25.6" width="14.1" height="7.5" rx="1.5" fill="#292d30"/><circle cx="65" cy="26.8" r="1.1" fill="#b9bcb8"/><circle cx="65" cy="31.8" r="1.1" fill="#b9bcb8"/><rect x="65.6" y="1" width="60" height="15" fill="#655f59"/><rect x="72.6" y="4" width="9" height="1.2" fill="#807a73"/><rect x="73.6" y="5.2" width="7" height="9" fill="#2c2e31"/><rect x="84.6" y="4" width="9" height="1.2" fill="#807a73"/><rect x="85.6" y="5.2" width="7" height="9" fill="#2c2e31"/><rect x="95.6" y="4" width="9" height="1.2" fill="#807a73"/><rect x="96.6" y="5.2" width="7" height="9" fill="#2c2e31"/><rect x="106.6" y="4" width="9" height="1.2" fill="#807a73"/><rect x="107.6" y="5.2" width="7" height="9" fill="#2c2e31"/><rect x="114.5" y="2" width="10.5" height="13" fill="#6e6962"/><rect x="66" y="15.9" width="58" height="2.2" fill="#8c9297"/><rect x="57.0" y="20.2" width="3.8" height="1.6" fill="#262b30"/><rect x="63.9" y="20.2" width="3.8" height="1.6" fill="#262b30"/><rect x="70.8" y="20.2" width="3.8" height="1.6" fill="#262b30"/><rect x="77.7" y="20.2" width="3.8" height="1.6" fill="#262b30"/><rect x="84.6" y="20.2" width="3.8" height="1.6" fill="#262b30"/><rect x="91.5" y="20.2" width="3.8" height="1.6" fill="#262b30"/><rect x="98.4" y="20.2" width="3.8" height="1.6" fill="#262b30"/><rect x="105.3" y="20.2" width="3.8" height="1.6" fill="#262b30"/><rect x="112.2" y="20.2" width="3.8" height="1.6" fill="#262b30"/><rect x="119.1" y="20.2" width="3.8" height="1.6" fill="#262b30"/><rect x="72" y="25" width="23" height="8" fill="#5f676b"/><rect x="76.2" y="25.6" width="15" height="6.6" rx="1" fill="#4065b5"/><circle cx="73.6" cy="29" r="1.1" fill="#c0c0b0"/><circle cx="93.4" cy="29" r="1.1" fill="#c0c0b0"/><rect x="98.7" y="23.4" width="19" height="9.7" fill="#727a81"/><rect x="99.7" y="24.4" width="17" height="8.7" fill="#4b5259"/><rect x="102.6" y="26.2" width="5" height="6" fill="#1f2327"/><rect x="108.6" y="26.2" width="5" height="6" fill="#1f2327"/><circle cx="122" cy="30.5" r="1.6" fill="#2a2f34"/><rect x="125.6" y="1.5" width="12.4" height="33" fill="#535a62"/><rect x="128.6" y="3.2" width="3" height="6" fill="#1f242a"/><rect x="132.6" y="3.2" width="3" height="6" fill="#1f242a"/><rect x="128.6" y="12.2" width="3" height="5" fill="#1f242a"/><rect x="132.6" y="12.2" width="3" height="5" fill="#1f242a"/><rect x="128.6" y="20.2" width="3" height="6" fill="#1f242a"/><rect x="132.6" y="20.2" width="3" height="6" fill="#1f242a"/><rect x="128.6" y="29.2" width="3" height="5" fill="#1f242a"/><rect x="132.6" y="29.2" width="3" height="5" fill="#1f242a"/><rect x="137" y="1.5" width="1" height="38" fill="#3a4048"/></g>
<g transform="translate(395.8,406.7)"><rect x="0" y="0" width="138" height="40" fill="#4c545d"/><rect x="0" y="0" width="138" height="1.5" fill="#3a4048"/><rect x="0" y="30.5" width="138" height="4" fill="#6a7783"/><rect x="0" y="34" width="138" height="6" fill="#9aacbb"/><rect x="6" y="35.5" width="9" height="2" fill="#7d8e9c"/><rect x="22" y="36.5" width="14" height="2" fill="#a9b8c4"/><rect x="44" y="35" width="8" height="2" fill="#7f909e"/><rect x="60" y="37" width="12" height="2" fill="#a6b6c2"/><rect x="80" y="35.5" width="10" height="2" fill="#8090a0"/><rect x="98" y="36.8" width="16" height="2" fill="#a2b2bf"/><rect x="120" y="35.3" width="8" height="2" fill="#7f8f9d"/><rect x="0" y="38.8" width="138" height="1.2" fill="#5d6a75"/><rect x="0" y="1.5" width="4" height="33" fill="#3f464e"/><rect x="3.5" y="3" width="0.8" height="30" fill="#7b848c"/><rect x="4.5" y="2" width="11" height="29" fill="#59616a"/><rect x="5.5" y="4" width="9.5" height="9" fill="#262b31"/><rect x="5" y="15.3" width="10.5" height="1.8" fill="#a9b1b8"/><rect x="5" y="17.1" width="10.5" height="5" fill="#262b30"/><rect x="5" y="23.8" width="10.5" height="1.8" fill="#a3abb2"/><rect x="5" y="25.6" width="10.5" height="4.8" fill="#262b30"/><rect x="19.5" y="1.5" width="25.5" height="18.5" fill="#5f676f"/><rect x="21.1" y="2" width="3.8" height="2" fill="#30363c"/><rect x="21.1" y="5.7" width="3.9" height="4.8" fill="#242a30"/><rect x="21.1" y="12.7" width="3.9" height="4.9" fill="#242a30"/><rect x="27.3" y="2" width="3.8" height="2" fill="#30363c"/><rect x="27.3" y="5.7" width="3.9" height="4.8" fill="#242a30"/><rect x="27.3" y="12.7" width="3.9" height="4.9" fill="#242a30"/><rect x="33.4" y="2" width="3.8" height="2" fill="#30363c"/><rect x="33.4" y="5.7" width="3.9" height="4.8" fill="#242a30"/><rect x="33.4" y="12.7" width="3.9" height="4.9" fill="#242a30"/><rect x="39.2" y="2" width="3.8" height="2" fill="#30363c"/><rect x="39.2" y="5.7" width="3.9" height="4.8" fill="#242a30"/><rect x="39.2" y="12.7" width="3.9" height="4.9" fill="#242a30"/><rect x="19.5" y="20" width="25.5" height="10.5" fill="#646c74"/><rect x="20.5" y="21" width="10.5" height="8" fill="#2a3036"/><rect x="33.5" y="21" width="10.5" height="8" fill="#2a3036"/><rect x="45" y="1.5" width="9" height="22" fill="#30363c"/><circle cx="47.7" cy="6.2" r="1.4" fill="#8a9097"/><circle cx="47.7" cy="16.2" r="1.4" fill="#8a9097"/><rect x="53.7" y="9.7" width="13.2" height="10.2" fill="#8f959a"/><rect x="55.5" y="11.5" width="9.6" height="6.8" fill="#2a2f34"/><rect x="54" y="1.5" width="12" height="8" fill="#3a4046"/><rect x="49.8" y="25.6" width="14.1" height="7.5" rx="1.5" fill="#292d30"/><circle cx="65" cy="26.8" r="1.1" fill="#b9bcb8"/><circle cx="65" cy="31.8" r="1.1" fill="#b9bcb8"/><rect x="65.6" y="1" width="60" height="15" fill="#655f59"/><rect x="72.6" y="4" width="9" height="1.2" fill="#807a73"/><rect x="73.6" y="5.2" width="7" height="9" fill="#2c2e31"/><rect x="84.6" y="4" width="9" height="1.2" fill="#807a73"/><rect x="85.6" y="5.2" width="7" height="9" fill="#2c2e31"/><rect x="95.6" y="4" width="9" height="1.2" fill="#807a73"/><rect x="96.6" y="5.2" width="7" height="9" fill="#2c2e31"/><rect x="106.6" y="4" width="9" height="1.2" fill="#807a73"/><rect x="107.6" y="5.2" width="7" height="9" fill="#2c2e31"/><rect x="114.5" y="2" width="10.5" height="13" fill="#6e6962"/><rect x="66" y="15.9" width="58" height="2.2" fill="#8c9297"/><rect x="57.0" y="20.2" width="3.8" height="1.6" fill="#262b30"/><rect x="63.9" y="20.2" width="3.8" height="1.6" fill="#262b30"/><rect x="70.8" y="20.2" width="3.8" height="1.6" fill="#262b30"/><rect x="77.7" y="20.2" width="3.8" height="1.6" fill="#262b30"/><rect x="84.6" y="20.2" width="3.8" height="1.6" fill="#262b30"/><rect x="91.5" y="20.2" width="3.8" height="1.6" fill="#262b30"/><rect x="98.4" y="20.2" width="3.8" height="1.6" fill="#262b30"/><rect x="105.3" y="20.2" width="3.8" height="1.6" fill="#262b30"/><rect x="112.2" y="20.2" width="3.8" height="1.6" fill="#262b30"/><rect x="119.1" y="20.2" width="3.8" height="1.6" fill="#262b30"/><rect x="72" y="25" width="23" height="8" fill="#5f676b"/><rect x="76.2" y="25.6" width="15" height="6.6" rx="1" fill="#4065b5"/><circle cx="73.6" cy="29" r="1.1" fill="#c0c0b0"/><circle cx="93.4" cy="29" r="1.1" fill="#c0c0b0"/><rect x="98.7" y="23.4" width="19" height="9.7" fill="#727a81"/><rect x="99.7" y="24.4" width="17" height="8.7" fill="#4b5259"/><rect x="102.6" y="26.2" width="5" height="6" fill="#1f2327"/><rect x="108.6" y="26.2" width="5" height="6" fill="#1f2327"/><circle cx="122" cy="30.5" r="1.6" fill="#2a2f34"/><rect x="125.6" y="1.5" width="12.4" height="33" fill="#535a62"/><rect x="128.6" y="3.2" width="3" height="6" fill="#1f242a"/><rect x="132.6" y="3.2" width="3" height="6" fill="#1f242a"/><rect x="128.6" y="12.2" width="3" height="5" fill="#1f242a"/><rect x="132.6" y="12.2" width="3" height="5" fill="#1f242a"/><rect x="128.6" y="20.2" width="3" height="6" fill="#1f242a"/><rect x="132.6" y="20.2" width="3" height="6" fill="#1f242a"/><rect x="128.6" y="29.2" width="3" height="5" fill="#1f242a"/><rect x="132.6" y="29.2" width="3" height="5" fill="#1f242a"/><rect x="137" y="1.5" width="1" height="38" fill="#3a4048"/></g>
<g transform="translate(570.4,406.7)"><rect x="0" y="0" width="138" height="40" fill="#4c545d"/><rect x="0" y="0" width="138" height="1.5" fill="#3a4048"/><rect x="0" y="30.5" width="138" height="4" fill="#6a7783"/><rect x="0" y="34" width="138" height="6" fill="#9aacbb"/><rect x="6" y="35.5" width="9" height="2" fill="#7d8e9c"/><rect x="22" y="36.5" width="14" height="2" fill="#a9b8c4"/><rect x="44" y="35" width="8" height="2" fill="#7f909e"/><rect x="60" y="37" width="12" height="2" fill="#a6b6c2"/><rect x="80" y="35.5" width="10" height="2" fill="#8090a0"/><rect x="98" y="36.8" width="16" height="2" fill="#a2b2bf"/><rect x="120" y="35.3" width="8" height="2" fill="#7f8f9d"/><rect x="0" y="38.8" width="138" height="1.2" fill="#5d6a75"/><rect x="0" y="1.5" width="4" height="33" fill="#3f464e"/><rect x="3.5" y="3" width="0.8" height="30" fill="#7b848c"/><rect x="4.5" y="2" width="11" height="29" fill="#59616a"/><rect x="5.5" y="4" width="9.5" height="9" fill="#262b31"/><rect x="5" y="15.3" width="10.5" height="1.8" fill="#a9b1b8"/><rect x="5" y="17.1" width="10.5" height="5" fill="#262b30"/><rect x="5" y="23.8" width="10.5" height="1.8" fill="#a3abb2"/><rect x="5" y="25.6" width="10.5" height="4.8" fill="#262b30"/><rect x="19.5" y="1.5" width="25.5" height="18.5" fill="#5f676f"/><rect x="21.1" y="2" width="3.8" height="2" fill="#30363c"/><rect x="21.1" y="5.7" width="3.9" height="4.8" fill="#242a30"/><rect x="21.1" y="12.7" width="3.9" height="4.9" fill="#242a30"/><rect x="27.3" y="2" width="3.8" height="2" fill="#30363c"/><rect x="27.3" y="5.7" width="3.9" height="4.8" fill="#242a30"/><rect x="27.3" y="12.7" width="3.9" height="4.9" fill="#242a30"/><rect x="33.4" y="2" width="3.8" height="2" fill="#30363c"/><rect x="33.4" y="5.7" width="3.9" height="4.8" fill="#242a30"/><rect x="33.4" y="12.7" width="3.9" height="4.9" fill="#242a30"/><rect x="39.2" y="2" width="3.8" height="2" fill="#30363c"/><rect x="39.2" y="5.7" width="3.9" height="4.8" fill="#242a30"/><rect x="39.2" y="12.7" width="3.9" height="4.9" fill="#242a30"/><rect x="19.5" y="20" width="25.5" height="10.5" fill="#646c74"/><rect x="20.5" y="21" width="10.5" height="8" fill="#2a3036"/><rect x="33.5" y="21" width="10.5" height="8" fill="#2a3036"/><rect x="45" y="1.5" width="9" height="22" fill="#30363c"/><circle cx="47.7" cy="6.2" r="1.4" fill="#8a9097"/><circle cx="47.7" cy="16.2" r="1.4" fill="#8a9097"/><rect x="53.7" y="9.7" width="13.2" height="10.2" fill="#8f959a"/><rect x="55.5" y="11.5" width="9.6" height="6.8" fill="#2a2f34"/><rect x="54" y="1.5" width="12" height="8" fill="#3a4046"/><rect x="49.8" y="25.6" width="14.1" height="7.5" rx="1.5" fill="#292d30"/><circle cx="65" cy="26.8" r="1.1" fill="#b9bcb8"/><circle cx="65" cy="31.8" r="1.1" fill="#b9bcb8"/><rect x="65.6" y="1" width="60" height="15" fill="#655f59"/><rect x="72.6" y="4" width="9" height="1.2" fill="#807a73"/><rect x="73.6" y="5.2" width="7" height="9" fill="#2c2e31"/><rect x="84.6" y="4" width="9" height="1.2" fill="#807a73"/><rect x="85.6" y="5.2" width="7" height="9" fill="#2c2e31"/><rect x="95.6" y="4" width="9" height="1.2" fill="#807a73"/><rect x="96.6" y="5.2" width="7" height="9" fill="#2c2e31"/><rect x="106.6" y="4" width="9" height="1.2" fill="#807a73"/><rect x="107.6" y="5.2" width="7" height="9" fill="#2c2e31"/><rect x="114.5" y="2" width="10.5" height="13" fill="#6e6962"/><rect x="66" y="15.9" width="58" height="2.2" fill="#8c9297"/><rect x="57.0" y="20.2" width="3.8" height="1.6" fill="#262b30"/><rect x="63.9" y="20.2" width="3.8" height="1.6" fill="#262b30"/><rect x="70.8" y="20.2" width="3.8" height="1.6" fill="#262b30"/><rect x="77.7" y="20.2" width="3.8" height="1.6" fill="#262b30"/><rect x="84.6" y="20.2" width="3.8" height="1.6" fill="#262b30"/><rect x="91.5" y="20.2" width="3.8" height="1.6" fill="#262b30"/><rect x="98.4" y="20.2" width="3.8" height="1.6" fill="#262b30"/><rect x="105.3" y="20.2" width="3.8" height="1.6" fill="#262b30"/><rect x="112.2" y="20.2" width="3.8" height="1.6" fill="#262b30"/><rect x="119.1" y="20.2" width="3.8" height="1.6" fill="#262b30"/><rect x="72" y="25" width="23" height="8" fill="#5f676b"/><rect x="76.2" y="25.6" width="15" height="6.6" rx="1" fill="#4065b5"/><circle cx="73.6" cy="29" r="1.1" fill="#c0c0b0"/><circle cx="93.4" cy="29" r="1.1" fill="#c0c0b0"/><rect x="98.7" y="23.4" width="19" height="9.7" fill="#727a81"/><rect x="99.7" y="24.4" width="17" height="8.7" fill="#4b5259"/><rect x="102.6" y="26.2" width="5" height="6" fill="#1f2327"/><rect x="108.6" y="26.2" width="5" height="6" fill="#1f2327"/><circle cx="122" cy="30.5" r="1.6" fill="#2a2f34"/><rect x="125.6" y="1.5" width="12.4" height="33" fill="#535a62"/><rect x="128.6" y="3.2" width="3" height="6" fill="#1f242a"/><rect x="132.6" y="3.2" width="3" height="6" fill="#1f242a"/><rect x="128.6" y="12.2" width="3" height="5" fill="#1f242a"/><rect x="132.6" y="12.2" width="3" height="5" fill="#1f242a"/><rect x="128.6" y="20.2" width="3" height="6" fill="#1f242a"/><rect x="132.6" y="20.2" width="3" height="6" fill="#1f242a"/><rect x="128.6" y="29.2" width="3" height="5" fill="#1f242a"/><rect x="132.6" y="29.2" width="3" height="5" fill="#1f242a"/><rect x="137" y="1.5" width="1" height="38" fill="#3a4048"/></g>
<line x1="268.8" y1="294.2" x2="56.2" y2="417.7" stroke="#d9414e" stroke-width="2.3" stroke-linecap="round"/>
<line x1="268.8" y1="304.3" x2="69.7" y2="433.2" stroke="#111" stroke-width="1.3" stroke-linecap="round"/>
<line x1="277.9" y1="304.3" x2="84.2" y2="433.7" stroke="#2f48a8" stroke-width="2.3" stroke-linecap="round"/>
<line x1="287.0" y1="304.3" x2="123.7" y2="419.2" stroke="#111" stroke-width="1.3" stroke-linecap="round"/>
<line x1="296.0" y1="304.3" x2="134.0" y2="418.2" stroke="#1c7f4a" stroke-width="2.3" stroke-linecap="round"/>
<line x1="305.1" y1="304.3" x2="144.7" y2="418.2" stroke="#111" stroke-width="1.3" stroke-linecap="round"/>
<line x1="314.2" y1="304.3" x2="154.9" y2="418.2" stroke="#8c4f9e" stroke-width="2.3" stroke-linecap="round"/>
<line x1="323.3" y1="294.2" x2="231.4" y2="417.7" stroke="#d9414e" stroke-width="2.3" stroke-linecap="round"/>
<line x1="323.3" y1="304.3" x2="244.9" y2="433.2" stroke="#111" stroke-width="1.3" stroke-linecap="round"/>
<line x1="332.4" y1="304.3" x2="259.4" y2="433.7" stroke="#2f48a8" stroke-width="2.3" stroke-linecap="round"/>
<line x1="341.4" y1="304.3" x2="298.9" y2="419.2" stroke="#111" stroke-width="1.3" stroke-linecap="round"/>
<line x1="350.5" y1="304.3" x2="309.2" y2="418.2" stroke="#1c7f4a" stroke-width="2.3" stroke-linecap="round"/>
<line x1="359.6" y1="304.3" x2="319.9" y2="418.2" stroke="#111" stroke-width="1.3" stroke-linecap="round"/>
<line x1="368.7" y1="304.3" x2="330.1" y2="418.2" stroke="#8c4f9e" stroke-width="2.3" stroke-linecap="round"/>
<line x1="377.8" y1="294.2" x2="405.8" y2="417.7" stroke="#d9414e" stroke-width="2.3" stroke-linecap="round"/>
<line x1="377.8" y1="304.3" x2="419.3" y2="433.2" stroke="#111" stroke-width="1.3" stroke-linecap="round"/>
<line x1="386.8" y1="304.3" x2="433.8" y2="433.7" stroke="#2f48a8" stroke-width="2.3" stroke-linecap="round"/>
<line x1="395.9" y1="304.3" x2="473.3" y2="419.2" stroke="#111" stroke-width="1.3" stroke-linecap="round"/>
<line x1="405.0" y1="304.3" x2="483.6" y2="418.2" stroke="#1c7f4a" stroke-width="2.3" stroke-linecap="round"/>
<line x1="414.1" y1="304.3" x2="494.3" y2="418.2" stroke="#111" stroke-width="1.3" stroke-linecap="round"/>
<line x1="423.2" y1="304.3" x2="504.5" y2="418.2" stroke="#8c4f9e" stroke-width="2.3" stroke-linecap="round"/>
<line x1="432.2" y1="294.2" x2="580.4" y2="417.7" stroke="#d9414e" stroke-width="2.3" stroke-linecap="round"/>
<line x1="432.2" y1="304.3" x2="593.9" y2="433.2" stroke="#111" stroke-width="1.3" stroke-linecap="round"/>
<line x1="441.3" y1="304.3" x2="608.4" y2="433.7" stroke="#2f48a8" stroke-width="2.3" stroke-linecap="round"/>
<line x1="450.4" y1="304.3" x2="647.9" y2="419.2" stroke="#111" stroke-width="1.3" stroke-linecap="round"/>
<line x1="459.5" y1="304.3" x2="658.2" y2="418.2" stroke="#1c7f4a" stroke-width="2.3" stroke-linecap="round"/>
<line x1="468.6" y1="304.3" x2="668.9" y2="418.2" stroke="#111" stroke-width="1.3" stroke-linecap="round"/>
<line x1="477.6" y1="304.3" x2="679.1" y2="418.2" stroke="#8c4f9e" stroke-width="2.3" stroke-linecap="round"/>
<line x1="316.8" y1="52" x2="316.8" y2="165" stroke="#86216c" stroke-width="3"/>
<line x1="485.3" y1="50" x2="485.3" y2="165" stroke="#86216c" stroke-width="3"/>
<line x1="526" y1="162" x2="607.5" y2="162" stroke="#86216c" stroke-width="3"/>
<line x1="526" y1="172.8" x2="607.5" y2="172.8" stroke="#86216c" stroke-width="3"/>
<line x1="476.8" y1="171.3" x2="477.8" y2="295" stroke="#a89d58" stroke-width="2.6"/>
<g fill="none" stroke="#111" stroke-width="1.3">
<path d="M102.9,438.1 C68.1,538.2 688.6,517.8 722.7,517.5"/>
<path d="M280.1,438.1 C266.5,522.2 594.8,508.9 722.7,503.6"/>
<path d="M453.6,438.1 C443.5,494.1 633.4,490.3 722.7,490.7"/>
<path d="M626.1,438.1 C628.0,467.5 673.1,478.7 722.7,477.2"/>
</g>
<text x="66" y="159" font-size="14" text-anchor="middle" fill="#111">Dallas VM Server</text>
<text x="66" y="175.8" font-size="14" text-anchor="middle" fill="#111">Switching</text>
<text x="66" y="192.3" font-size="14" text-anchor="middle" fill="#111">2010.12.17</text>
<text x="206" y="167" font-size="12" text-anchor="middle" fill="#111">sw0.dfw</text>
<text x="206" y="180.6" font-size="12" text-anchor="middle" fill="#111">Cisco 2960G</text>
<text x="177.3" y="188.6" font-size="6.8" class="m" fill="#222" textLength="60.7" lengthAdjust="spacingAndGlyphs">198.180.152.52/26</text>
<text x="366.4" y="94.6" font-size="12" text-anchor="middle" fill="#111">r0.dfw</text>
<text x="366.4" y="108.3" font-size="12" text-anchor="middle" fill="#111">Cisco 12406</text>
<text x="612" y="82.1" font-size="12" text-anchor="middle" fill="#111">r1.dfw</text>
<text x="612" y="96.2" font-size="12" text-anchor="middle" fill="#111">Juniper MX240</text>
<text x="592" y="307.9" font-size="12" text-anchor="middle" fill="#111">Juniper EX4200</text>
<text x="592.3" y="293.6" font-size="12" text-anchor="middle" fill="#111">sw1.dfw</text>
<text x="560.3" y="315.5" font-size="6.8" class="m" fill="#222" textLength="60.7" lengthAdjust="spacingAndGlyphs">198.180.152.53/26</text>
<text x="612" y="163.9" font-size="10" text-anchor="start" fill="#111">NTT/Verio</text>
<text x="612" y="176" font-size="10" text-anchor="start" fill="#111">Equinix IX</text>
<text x="448.8" y="213.7" font-size="10" text-anchor="start" fill="#111">VLAN Trunk</text>
<text x="449.4" y="225.6" font-size="10" class="r" text-anchor="start"><tspan fill="#d9414e">100</tspan><tspan fill="#111">/</tspan><tspan fill="#1f9a4a">200</tspan><tspan fill="#111">/</tspan><tspan fill="#9a4fa8">300</tspan></text>
<text x="248.9" y="214.5" font-size="10" text-anchor="start" fill="#2d4f9e">(not routed)</text>
<text x="309.7" y="214.5" font-size="10" text-anchor="start" fill="#2d4f9e">VLAN 99</text>
<text x="363.9" y="214.5" font-size="10" text-anchor="start" fill="#2d4f9e">SAN/NFS</text>
<text x="309.7" y="229.2" font-size="10" text-anchor="start" fill="#d9424e">VLAN 100</text>
<text x="363.9" y="229.2" font-size="10" text-anchor="start" fill="#d9424e">IPMI</text>
<text x="309.7" y="243.9" font-size="10" text-anchor="start" fill="#1f8f45">VLAN 200</text>
<text x="363.9" y="243.9" font-size="10" text-anchor="start" fill="#1f8f45">Guest Mgt</text>
<text x="309.7" y="257.7" font-size="10" text-anchor="start" fill="#8e55a3">VLAN 300</text>
<text x="363.9" y="257.7" font-size="10" text-anchor="start" fill="#8e55a3">DUT/VME</text>
<text x="310" y="271.3" font-size="10" text-anchor="start" fill="#111">Unused</text>
<text x="365.8" y="271.3" font-size="10" text-anchor="start" fill="#111">Black</text>
<text x="155.8" y="459.3" font-size="12" text-anchor="middle" fill="#111">vm0.dfw</text>
<text x="125" y="467.5" font-size="6.8" class="m" fill="#222" textLength="60.4" lengthAdjust="spacingAndGlyphs">198.180.152.30/26</text>
<text x="328.2" y="459.3" font-size="12" text-anchor="middle" fill="#111">vm1.dfw</text>
<text x="297.3" y="467.5" font-size="6.8" class="m" fill="#222" textLength="60.4" lengthAdjust="spacingAndGlyphs">198.180.152.31/26</text>
<text x="512.4" y="459.3" font-size="12" text-anchor="middle" fill="#111">vm2.dfw</text>
<text x="481.3" y="467.5" font-size="6.8" class="m" fill="#222" textLength="60.8" lengthAdjust="spacingAndGlyphs">198.180.152.32/26</text>
<text x="685.8" y="459.3" font-size="12" text-anchor="middle" fill="#111">vm3.dfw</text>
<text x="654.5" y="467.5" font-size="6.8" class="m" fill="#222" textLength="60.8" lengthAdjust="spacingAndGlyphs">198.180.152.33/26</text>
<text x="724.9" y="478.5" font-size="8" text-anchor="start" class="r" fill="#111">o1.dfw-01</text>
<text x="724.9" y="492" font-size="8" text-anchor="start" class="r" fill="#111">o1.dfw-02</text>
<text x="724.9" y="505.5" font-size="8" text-anchor="start" class="r" fill="#111">o1.dfw-03</text>
<text x="724.9" y="519" font-size="8" text-anchor="start" class="r" fill="#111">o1.dfw-04</text>
</svg></body></html>
